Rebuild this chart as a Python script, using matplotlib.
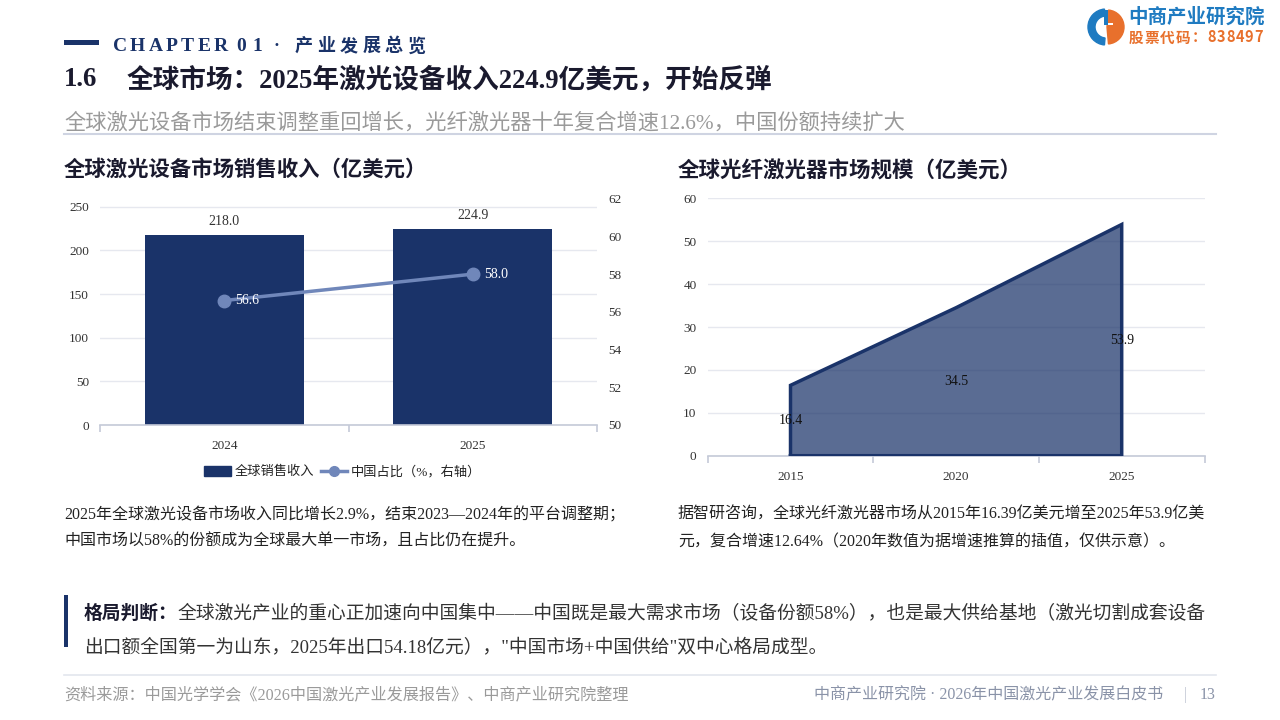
import matplotlib
matplotlib.use("Agg")
import matplotlib.pyplot as plt
from matplotlib.patches import Rectangle, Wedge, Patch
from matplotlib.lines import Line2D

# ---------------- data ----------------
bar_years = ["2024", "2025"]
global_revenue = [218.0, 224.9]
china_share = [56.6, 58.0]

fiber_years = ["2015", "2020", "2025"]
fiber_market = [16.4, 34.5, 53.9]

left_yticks = [0, 50, 100, 150, 200, 250]
right_yticks = [50, 52, 54, 56, 58, 60, 62]
fiber_yticks = [0, 10, 20, 30, 40, 50, 60]

# ---------------- styles ----------------
FAM = ["Liberation Serif", "Noto Sans CJK SC"]
NAVY = "#1a3369"
LINEC = "#7087ba"
GRID = "#e6e8ef"
AXC = "#c5cad8"
TXT = "#333333"

W, H = 1280, 720
fig = plt.figure(figsize=(12.8, 7.2), dpi=100)
fig.patch.set_facecolor("white")


def fx(x):
    return x / W


def fy(y):
    return 1 - y / H


def T(x, y, s, **kw):
    kw.setdefault("family", FAM)
    kw.setdefault("va", "center")
    return fig.text(fx(x), fy(y), s, **kw)


renderer = fig.canvas.get_renderer()


def spaced_fit(x0, x1, y, s, **kw):
    """Spread the characters of s so that they run from x0 to x1."""
    arts = [T(0, y, ch, **kw) for ch in s]
    widths = [a.get_window_extent(renderer=renderer).width for a in arts]
    gap = (x1 - x0 - sum(widths)) / max(len(s) - 1, 1)
    x = x0
    for a, w in zip(arts, widths):
        a.set_x(fx(x))
        x += w + gap


# ---------------- header ----------------
fig.add_artist(Rectangle((fx(64), fy(45)), fx(99) - fx(64), 5 / H,
                         transform=fig.transFigure, color=NAVY, lw=0))
spaced_fit(112.7, 227.7, 46.5, "CHAPTER", fontsize=14, weight="bold", color=NAVY)
spaced_fit(236.7, 262.3, 46.5, "01", fontsize=14, weight="bold", color=NAVY)
T(276.7, 46.5, "·", fontsize=13, weight="bold", color=NAVY, ha="center")
spaced_fit(295, 425, 46.5, "产业发展总览", fontsize=13, weight="bold", color=NAVY)

T(64, 80, "1.6", fontsize=19.3, weight="bold", color="#1a1a2e")
T(127, 80, "全球市场：2025年激光设备收入224.9亿美元，开始反弹", fontsize=19.2,
  weight="bold", color="#1a1a2e")
T(64, 123, "全球激光设备市场结束调整重回增长，光纤激光器十年复合增速12.6%，中国份额持续扩大",
  fontsize=15.3, color="#9a9a9a")
fig.add_artist(Line2D([fx(64), fx(1216)], [fy(133.5), fy(133.5)],
                      transform=fig.transFigure, color="#cfd4e2", lw=1.5))

# logo
cx, cy, r = 1106, 27, 18
axl = fig.add_axes([0, 0, 1, 1], facecolor="none")
axl.set_xlim(0, W)
axl.set_ylim(H, 0)
axl.axis("off")
axl.add_patch(Wedge((cx, cy), r, 95, 265, width=7, color="#1f7bc1"))
axl.add_patch(Wedge((cx + 1, cy), r - 1, -85, 85, width=r - 1, color="#e8702c"))
axl.add_patch(Rectangle((cx - 2, cy - r + 1), 3.5, r - 3, color="#1f7bc1", lw=0))
axl.add_patch(Rectangle((cx + 1.5, cy - 4), 5, 2, color="white", lw=0))
T(1128, 17, "中商产业研究院", fontsize=14, weight="bold", color="#1f7bc1",
  family=["Noto Sans CJK SC"])
spaced_fit(1129, 1263, 37.5, "股票代码：838497", fontsize=10.5, weight="bold",
           color="#e8702c", family=["Noto Sans CJK SC"])

# ---------------- left chart ----------------
T(64, 171.5, "全球激光设备市场销售收入（亿美元）", fontsize=15.4, weight="bold",
  color="#1a1a2e")

ax = fig.add_axes([fx(100), fy(425), fx(597) - fx(100), (425 - 198.7) / H])
top_left = 250 * (425 - 198.7) / (425 - 206.7)
xpos = list(range(len(bar_years)))
ax.bar(xpos, global_revenue, width=0.64, color=NAVY, zorder=2)
ax.set_xlim(-0.5, len(bar_years) - 0.5)
ax.set_ylim(0, top_left)
ax.set_yticks(left_yticks)
ax.set_yticklabels([str(v) for v in left_yticks])
ax.grid(axis="y", color=GRID, lw=1, zorder=0)
ax.set_axisbelow(True)
for s in ["top", "right", "left"]:
    ax.spines[s].set_visible(False)
ax.spines["bottom"].set_color(AXC)
ax.spines["bottom"].set_linewidth(1.2)
ax.set_xticks(xpos)
ax.set_xticklabels(bar_years)
ax.set_xticks([i - 0.5 for i in range(len(bar_years) + 1)], minor=True)
ax.tick_params(axis="x", which="major", length=0, pad=11, labelsize=9.5,
               labelcolor=TXT)
ax.tick_params(axis="x", which="minor", length=5, color=AXC, width=1.2)
ax.tick_params(axis="y", length=0, pad=8, labelsize=9.5, labelcolor=TXT)
for lab in ax.get_xticklabels() + ax.get_yticklabels():
    lab.set_family(FAM)
for i, v in enumerate(global_revenue):
    ax.annotate(f"{v:.1f}", (i, v), xytext=(0, 5), textcoords="offset points",
                ha="center", va="bottom", fontsize=10, color=TXT, family=FAM)

ax2 = ax.twinx()
ax2.set_ylim(right_yticks[0], right_yticks[-1])
ax2.set_yticks(right_yticks)
ax2.set_yticklabels([str(v) for v in right_yticks])
ax2.plot(xpos, china_share, color=LINEC, lw=2.5, marker="o", ms=9, zorder=3)
for s in ["top", "right", "left", "bottom"]:
    ax2.spines[s].set_visible(False)
ax2.tick_params(axis="y", length=0, pad=8, labelsize=9.5, labelcolor=TXT)
for lab in ax2.get_yticklabels():
    lab.set_family(FAM)
for i, v in enumerate(china_share):
    ax2.annotate(f"{v:.1f}", (i, v), xytext=(8, 0), textcoords="offset points",
                 ha="left", va="center", fontsize=10, color="white", family=FAM)

handles = [Patch(facecolor=NAVY, edgecolor=NAVY),
           Line2D([0], [0], color=LINEC, lw=2.5, marker="o", ms=7)]
leg = fig.legend(handles, ["全球销售收入", "中国占比（%，右轴）"], loc="center",
                 bbox_to_anchor=(fx(343), fy(472)), ncol=2, frameon=False,
                 prop={"family": FAM, "size": 9.5}, handlelength=2.0,
                 handleheight=0.8, columnspacing=0.5, handletextpad=0.3)
for t in leg.get_texts():
    t.set_color("#222222")

T(64, 515, "2025年全球激光设备市场收入同比增长2.9%，结束2023—2024年的平台调整期；",
  fontsize=11.5, color="#222222")
T(64, 542, "中国市场以58%的份额成为全球最大单一市场，且占比仍在提升。",
  fontsize=11.5, color="#222222")

# ---------------- right chart ----------------
T(678, 171.5, "全球光纤激光器市场规模（亿美元）", fontsize=15.5, weight="bold",
  color="#1a1a2e")

axr = fig.add_axes([fx(707.7), fy(455.7), fx(1204.5) - fx(707.7),
                    (455.7 - 198.3) / H])
xr = list(range(len(fiber_years)))
axr.fill_between(xr, fiber_market, 0, color=NAVY, alpha=0.72, lw=0, zorder=2)
axr.plot([xr[0]] + xr + [xr[-1], xr[0]],
         [0] + fiber_market + [0, 0], color=NAVY, lw=2.5, zorder=3,
         solid_joinstyle="miter")
axr.set_xlim(-0.5, len(fiber_years) - 0.5)
axr.set_ylim(0, 60)
axr.set_yticks(fiber_yticks)
axr.set_yticklabels([str(v) for v in fiber_yticks])
axr.grid(axis="y", color=GRID, lw=1, zorder=0)
axr.set_axisbelow(True)
for s in ["top", "right", "left"]:
    axr.spines[s].set_visible(False)
axr.spines["bottom"].set_color(AXC)
axr.spines["bottom"].set_linewidth(1.2)
axr.set_xticks(xr)
axr.set_xticklabels(fiber_years)
axr.set_xticks([i - 0.5 for i in range(len(fiber_years) + 1)], minor=True)
axr.tick_params(axis="x", which="major", length=0, pad=11, labelsize=9.5,
                labelcolor=TXT)
axr.tick_params(axis="x", which="minor", length=5, color=AXC, width=1.2)
axr.tick_params(axis="y", length=0, pad=8, labelsize=9.5, labelcolor=TXT)
for lab in axr.get_xticklabels() + axr.get_yticklabels():
    lab.set_family(FAM)
for i, v in enumerate(fiber_market):
    axr.text(i, v / 2, f"{v:.1f}", ha="center", va="center", fontsize=10,
             color="#111111", family=FAM, zorder=4)

T(678, 515, "据智研咨询，全球光纤激光器市场从2015年16.39亿美元增至2025年53.9亿美",
  fontsize=11.5, color="#222222")
T(678, 542, "元，复合增速12.64%（2020年数值为据增速推算的插值，仅供示意）。",
  fontsize=11.5, color="#222222")

# ---------------- judgement box ----------------
fig.add_artist(Rectangle((fx(64), fy(647)), 4.3 / W, (647 - 595) / H,
                         transform=fig.transFigure, color=NAVY, lw=0))
tb = T(84, 614, "格局判断：", fontsize=13.5, weight="bold", color="#1a1a2e")
bw = tb.get_window_extent(renderer=renderer).width
T(84 + bw, 614, "全球激光产业的重心正加速向中国集中——中国既是最大需求市场（设备份额58%），也是最大供给基地（激光切割成套设备",
  fontsize=13.5, color="#333333")
T(84, 648, "出口额全国第一为山东，2025年出口54.18亿元），\"中国市场+中国供给\"双中心格局成型。",
  fontsize=13.5, color="#333333")

# ---------------- footer ----------------
fig.add_artist(Line2D([fx(64), fx(1216)], [fy(675), fy(675)],
                      transform=fig.transFigure, color="#e3e6ee", lw=1.2))
T(64, 695, "资料来源：中国光学学会《2026中国激光产业发展报告》、中商产业研究院整理",
  fontsize=11.6, color="#9a9a9a")
T(1216, 695, "13", fontsize=11.5, color="#8a93a8", ha="right")
T(1185, 695, "|", fontsize=11.5, color="#c0c5d2", ha="center")
T(1163, 695, "中商产业研究院 · 2026年中国激光产业发展白皮书", fontsize=11.5,
  color="#8a93a8", ha="right")

fig.savefig("out.png", dpi=100, facecolor="white")
